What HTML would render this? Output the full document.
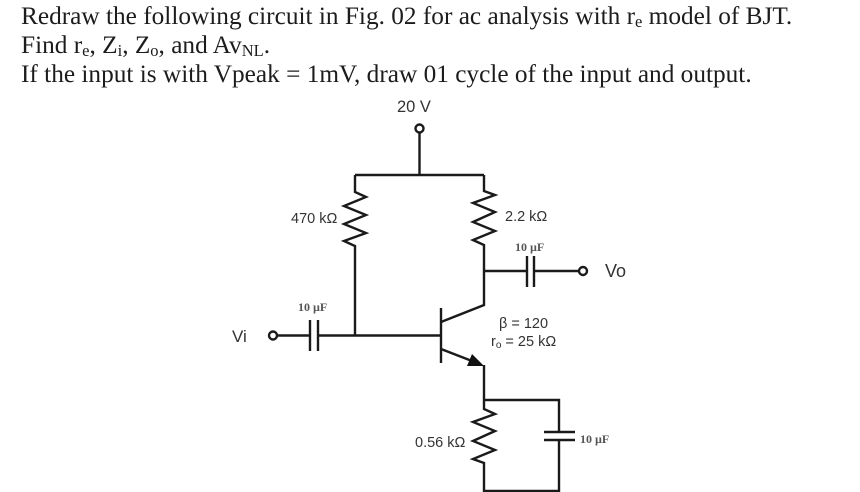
<!DOCTYPE html>
<html>
<head>
<meta charset="utf-8">
<style>
html,body{margin:0;padding:0;background:#fff}
svg{display:block}
.t{font-family:"Liberation Serif",serif;font-size:25.3px;fill:#1c1c1c}
.l{font-family:"Liberation Sans",sans-serif;font-size:14.5px;fill:#333}
.s{font-family:"Liberation Serif",serif;font-size:12px;fill:#555;font-weight:bold}
.w{fill:none;stroke:#1a1a1a;stroke-width:2.4;stroke-linejoin:miter}
</style>
</head>
<body>
<svg width="860" height="492" viewBox="0 0 860 492" xmlns="http://www.w3.org/2000/svg">
<rect width="860" height="492" fill="#fff"/>
<text class="t" x="21" y="24">Redraw the following circuit in Fig. 02 for ac analysis with r<tspan font-size="16.5" dy="3">e</tspan><tspan dy="-3"> model of BJT.</tspan></text>
<text class="t" x="21" y="53">Find r<tspan font-size="16.5" dy="3">e</tspan><tspan dy="-3">, Z</tspan><tspan font-size="16.5" dy="3">i</tspan><tspan dy="-3">, Z</tspan><tspan font-size="16.5" dy="3">o</tspan><tspan dy="-3">, and Av</tspan><tspan font-size="16.5" dy="3">NL</tspan><tspan dy="-3">.</tspan></text>
<text class="t" x="21" y="82">If the input is with Vpeak = 1mV, draw 01 cycle of the input and output.</text>

<text class="l" x="397" y="112" style="font-size:16.5px">20 V</text>
<text class="l" x="291" y="223">470 kΩ</text>
<text class="l" x="505" y="221">2.2 kΩ</text>
<text class="s" x="515" y="251">10 µF</text>
<text class="l" x="605" y="277" style="font-size:18px">Vo</text>
<text class="s" x="298" y="311">10 µF</text>
<text class="l" x="232" y="342" style="font-size:17px">Vi</text>
<text class="l" x="499" y="328">β = 120</text>
<text class="l" x="491" y="346">r<tspan font-size="10" dy="2">o</tspan><tspan dy="-2"> = 25 kΩ</tspan></text>
<text class="l" x="415" y="447">0.56 kΩ</text>
<text class="s" x="580" y="443">10 µF</text>

<circle class="w" cx="419.5" cy="128.5" r="4"/>
<path class="w" d="M419.5 133V175M355 175H484"/>
<path class="w" d="M355 175V192L366 197L344 206L366 215L344 224L366 233L344 241L355 246V335"/>
<path class="w" d="M484 175V191L495 195L473 203L495 212L473 222L495 231L473 240L484 245V305L441 322"/>
<path class="w" d="M484 271H527M527 256V287M534 256V287M534 271H579"/>
<circle class="w" cx="583" cy="271" r="4"/>
<circle class="w" cx="273" cy="335.5" r="4"/>
<path class="w" d="M277 335.5H310M310 320V351M318 320V351M318 335.5H441M441 308V363"/>
<path class="w" d="M441 349L472 361"/>
<polygon points="484,366 467,366 472,354" fill="#111"/>
<path class="w" d="M484 365V400H559V432M544 432H575M544 440H575M559 440V491H484V463L473 459L495 450L473 441L495 431L473 422L495 414L484 409V400"/>
</svg>
</body>
</html>
